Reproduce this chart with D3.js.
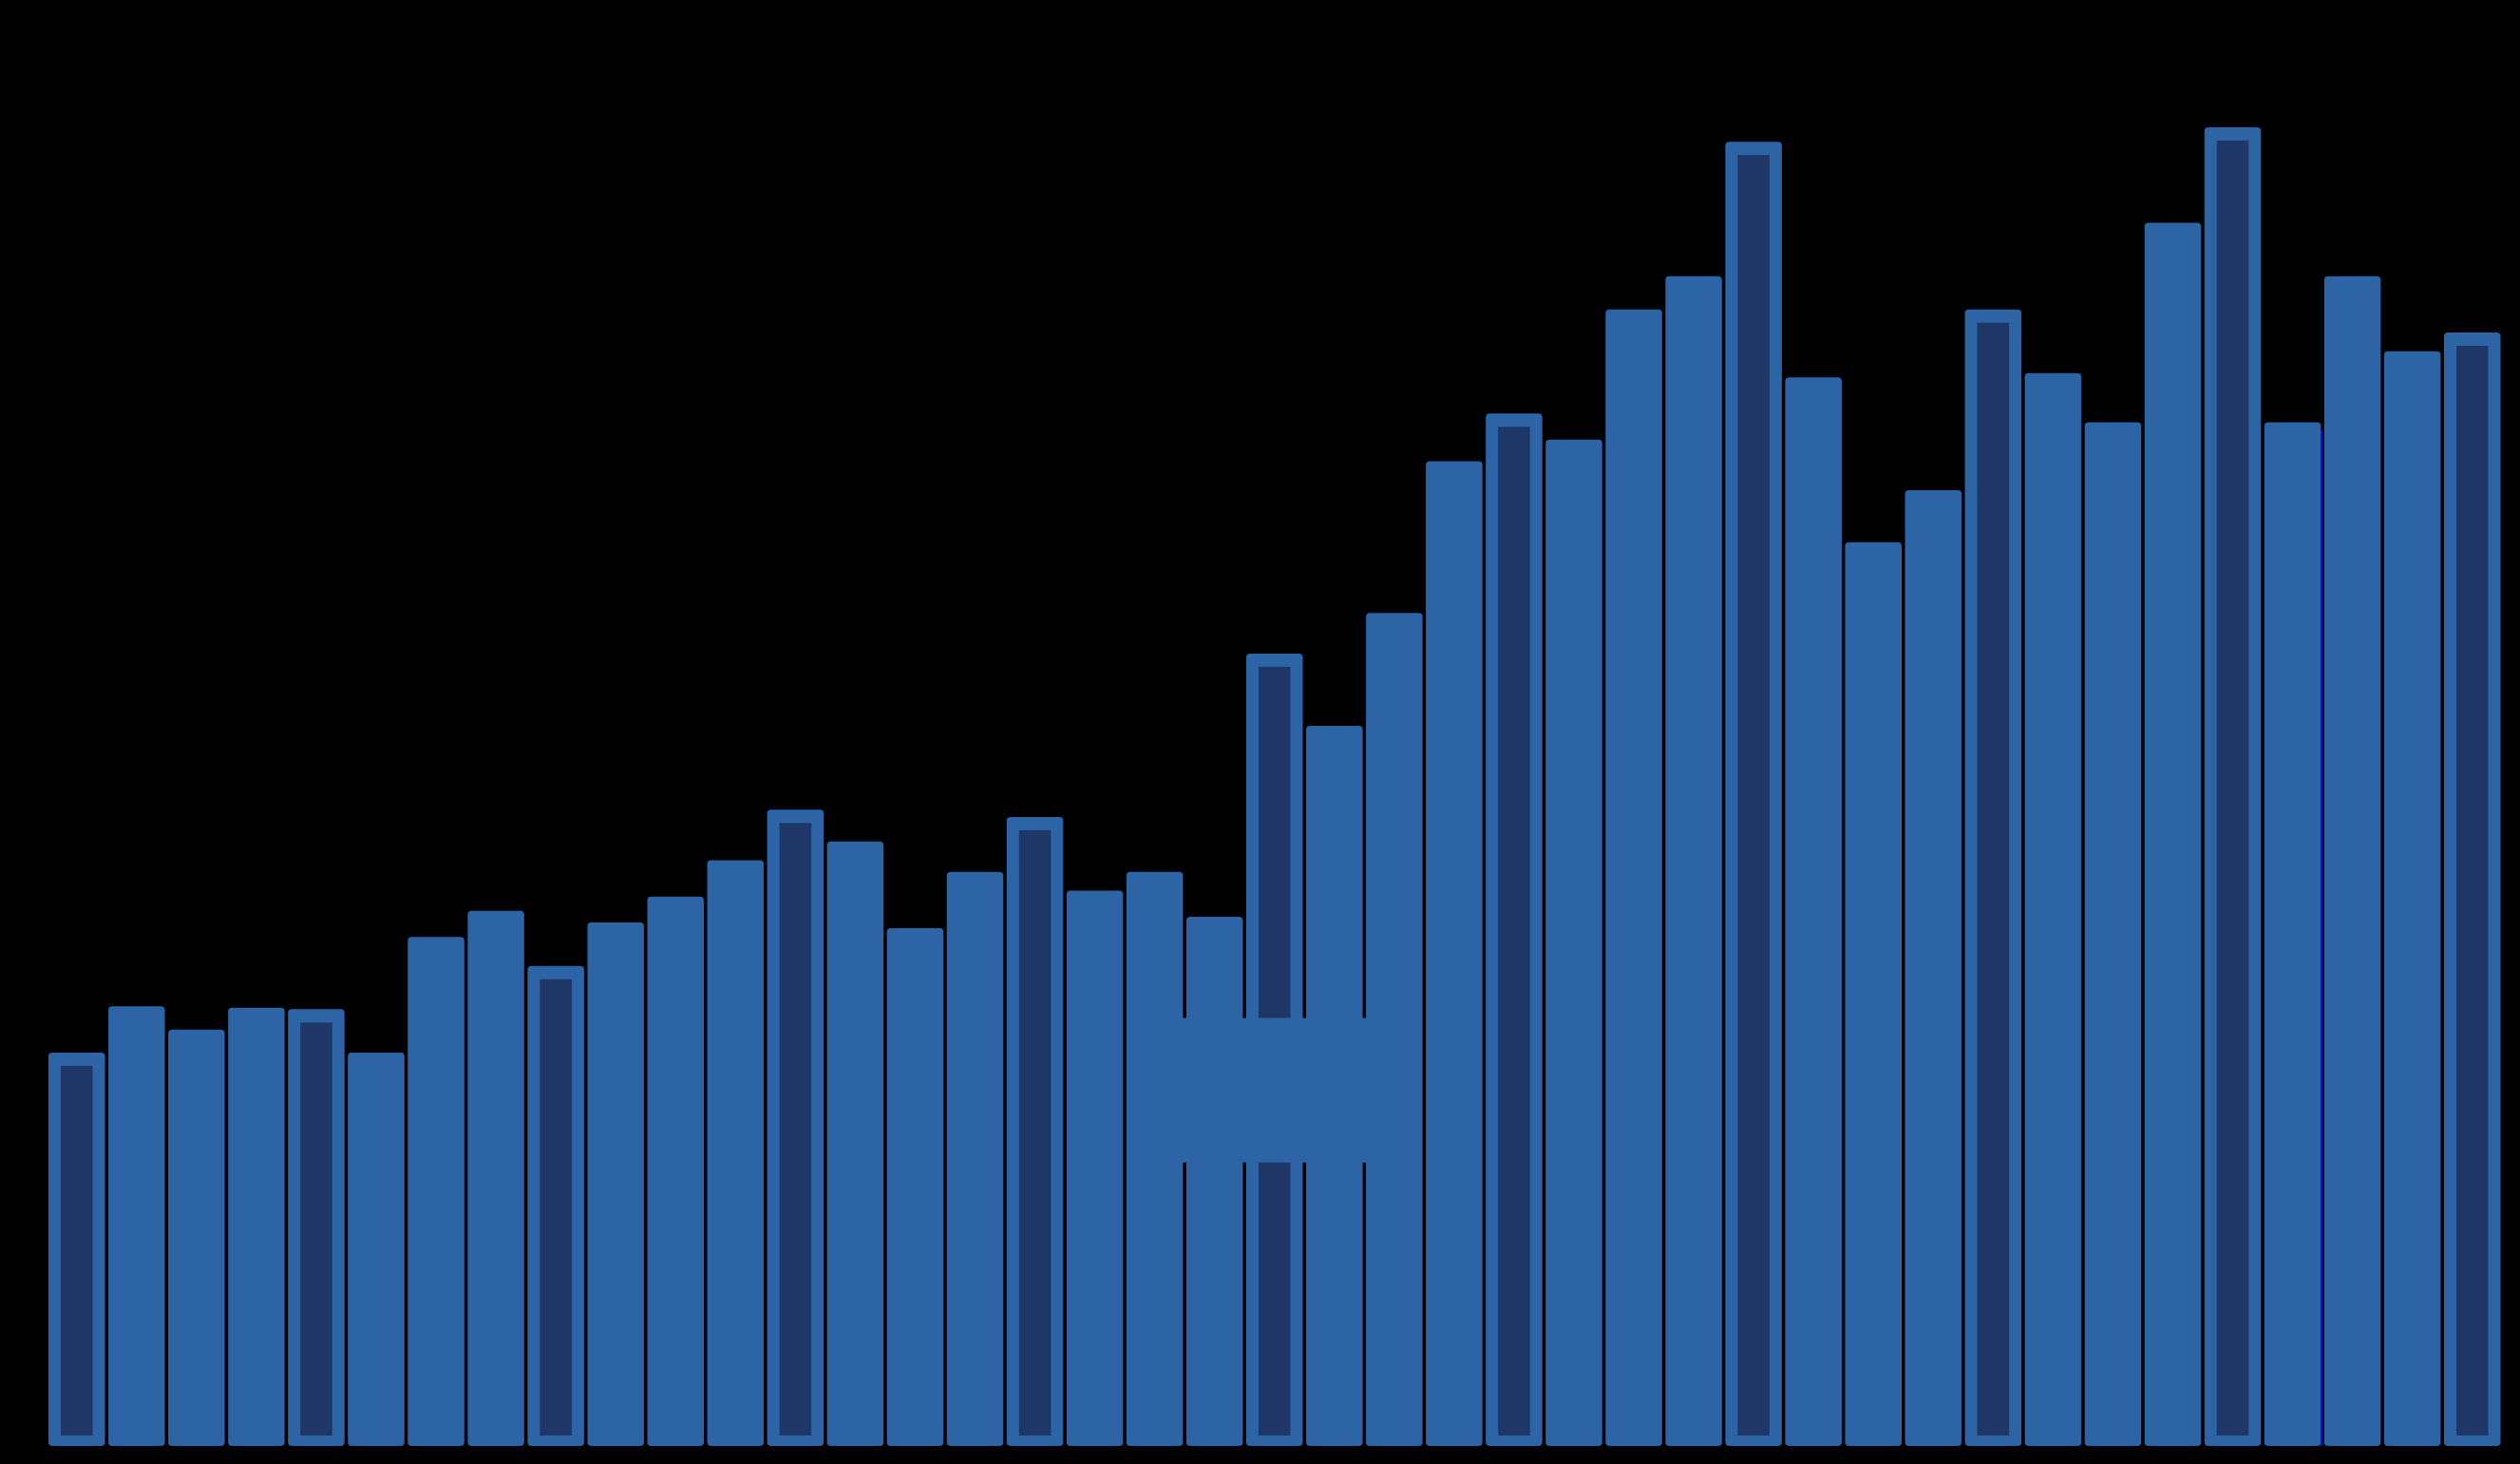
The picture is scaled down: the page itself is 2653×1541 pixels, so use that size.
<!DOCTYPE html>
<html>
<head>
<meta charset="utf-8">
<script src="https://cdn.jsdelivr.net/npm/d3@7"></script>
<style>
  html, body { margin: 0; padding: 0; background: #000; }
  svg { display: block; }
</style>
</head>
<body>
<svg id="chart"></svg>
<script>
const categories = ['1', '2', '3', '4', '5', '6', '7', '8', '9', '10', '11', '12', '13', '14',
  '15', '16', '17', '18', '19', '20', '21', '22', '23', '24', '25', '26', '27', '28',
  '29', '30', '31', '32', '33', '34', '35', '36', '37', '38', '39', '40', '41']
const values = [27.2, 30.4, 28.8, 30.3, 30.2, 27.2, 35.2, 37.0, 33.2, 36.2, 38.0, 40.5, 44.0, 41.8,
  35.8, 39.7, 43.5, 38.4, 39.7, 36.6, 54.8, 49.8, 57.6, 68.1, 71.4, 69.6, 78.6, 80.9,
  90.2, 73.9, 62.5, 66.1, 78.6, 74.2, 70.8, 84.6, 91.2, 70.8, 80.9, 75.7, 77.0]
const highlighted = ['1', '5', '9', '13', '17', '21', '25', '29', '33', '37', '41']
// box laid over the middle bars (from category 20 to 23)
const boxCats = ['20', '23']
const boxValues = [29.6, 19.6]
// thin blue edge on the right side of this bar
const edgeCat = '38'

const width = 2653
const height = 1541
const base = 1522

const svg = d3.select('#chart')
  .attr('width', width)
  .attr('height', height)

svg.append('rect')
  .attr('width', width)
  .attr('height', height)
  .attr('fill', '#000')

const xScale = d3.scaleBand()
  .domain(categories)
  .range([51, 2632.5])
  .paddingInner(0.056)
  .paddingOuter(0)

const yScale = d3.scaleLinear()
  .domain([0, 100])
  .range([base, 0])

const data = categories.map((c, i) => ({ cat: c, value: values[i], hi: highlighted.includes(c) }))

const bar = svg.selectAll('g.bar')
  .data(data)
  .enter()
  .append('g')
  .attr('class', 'bar')

bar.append('rect')
  .attr('x', d => xScale(d.cat))
  .attr('y', d => yScale(d.value))
  .attr('width', xScale.bandwidth())
  .attr('height', d => base - yScale(d.value))
  .attr('rx', 4)
  .attr('fill', '#2d64a5')

bar.filter(d => d.hi)
  .append('rect')
  .attr('x', d => xScale(d.cat) + 13)
  .attr('y', d => yScale(d.value) + 14)
  .attr('width', xScale.bandwidth() - 26)
  .attr('height', d => base - yScale(d.value) - 25)
  .attr('fill', '#1f3766')

const edgeVal = values[categories.indexOf(edgeCat)]
svg.append('line')
  .attr('x1', xScale(edgeCat) + xScale.bandwidth() + 1)
  .attr('x2', xScale(edgeCat) + xScale.bandwidth() + 1)
  .attr('y1', yScale(edgeVal) + 8)
  .attr('y2', base)
  .attr('stroke', '#0a14c8')
  .attr('stroke-width', 2)

const bx0 = xScale(boxCats[0]) - 14
const bx1 = xScale(boxCats[1]) + 8
svg.append('rect')
  .attr('x', bx0)
  .attr('y', yScale(boxValues[0]))
  .attr('width', bx1 - bx0)
  .attr('height', yScale(boxValues[1]) - yScale(boxValues[0]))
  .attr('fill', '#2d64a5')
</script>
</body>
</html>
